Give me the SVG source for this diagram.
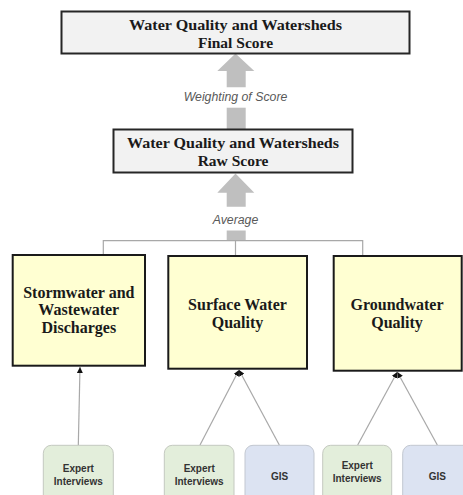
<svg xmlns="http://www.w3.org/2000/svg" width="463" height="495" viewBox="0 0 463 495">
  <defs>
    <style>
      .score { fill: #f2f2f2; stroke: #262626; stroke-width: 2; }
      .factor { fill: #ffffd2; stroke: #1a1a1a; stroke-width: 2; }
      .expert { fill: #e3eedb; stroke: #c4c9c0; stroke-width: 1; }
      .gis { fill: #dce3f2; stroke: #c2c7d0; stroke-width: 1; }
      .bigarrow { fill: #bfbfbf; }
      .link { stroke: #a8a8a8; stroke-width: 1.2; fill: none; }
      .serif { font-family: "Liberation Serif", "Times New Roman", serif; font-weight: bold; fill: #1a1a1a; text-anchor: middle; }
      .label { font-family: "Liberation Sans", Arial, sans-serif; font-style: italic; fill: #595959; font-size: 12.3px; text-anchor: middle; }
      .small { font-family: "Liberation Sans", Arial, sans-serif; font-weight: bold; fill: #333; font-size: 10px; text-anchor: middle; }
    </style>
    <marker id="tip" viewBox="0 0 6 6" refX="6" refY="3" markerWidth="6" markerHeight="6" markerUnits="userSpaceOnUse" orient="auto">
      <path d="M0,0 L6,3 L0,6 Z" fill="#111"/>
    </marker>
  </defs>

  <rect width="463" height="495" fill="#ffffff"/>

  <!-- connectors -->
  <g id="connectors">
    <!-- final score arrow, broken around its label -->
    <polygon class="bigarrow" points="235.5,53.5 254.3,71 245.7,71 245.7,87.3 226.7,87.3 226.7,71 217.3,71"/>
    <rect class="bigarrow" x="226.7" y="107.7" width="19" height="21.6"/>
    <text class="label" x="235.5" y="101">Weighting of Score</text>

    <!-- raw score arrow -->
    <polygon class="bigarrow" points="235.5,173.5 254.3,192.7 245.7,192.7 245.7,206.7 226.7,206.7 226.7,192.7 217.3,192.7"/>
    <rect class="bigarrow" x="226.7" y="230.5" width="19" height="10"/>
    <text class="label" x="235.5" y="224">Average</text>

    <!-- bracket joining the three factors -->
    <path class="link" d="M103.3,255 V240.7 H362.7 V256 M235.5,240.7 V256"/>

    <!-- data sources feeding each factor -->
    <path class="link" d="M78.3,445.5 L80,367" marker-end="url(#tip)"/>
    <path class="link" d="M200,445 L239,370" marker-end="url(#tip)"/>
    <path class="link" d="M279.3,445 L239,370" marker-end="url(#tip)"/>
    <path class="link" d="M357.7,445 L397.3,372" marker-end="url(#tip)"/>
    <path class="link" d="M437.3,445 L397.3,372" marker-end="url(#tip)"/>
  </g>

  <g id="final-score">
    <rect class="score" x="61.5" y="11.5" width="348" height="42"/>
    <text class="serif" x="235.5" y="29.5" font-size="15.5" textLength="213" lengthAdjust="spacingAndGlyphs">Water Quality and Watersheds</text>
    <text class="serif" x="235.5" y="47.5" font-size="15.5">Final Score</text>
  </g>

  <g id="raw-score">
    <rect class="score" x="113.5" y="129.5" width="239" height="43"/>
    <text class="serif" x="233" y="148" font-size="15.5" textLength="212" lengthAdjust="spacingAndGlyphs">Water Quality and Watersheds</text>
    <text class="serif" x="233" y="166" font-size="15.5">Raw Score</text>
  </g>

  <g id="stormwater">
    <rect class="factor" x="12.7" y="255" width="132.3" height="110.7"/>
    <text class="serif" x="78.8" y="297.5" font-size="16">Stormwater and</text>
    <text class="serif" x="78.8" y="315" font-size="16">Wastewater</text>
    <text class="serif" x="78.8" y="332.5" font-size="16">Discharges</text>
  </g>

  <g id="surface-water">
    <rect class="factor" x="168.3" y="256" width="138.7" height="112.7"/>
    <text class="serif" x="237.5" y="310" font-size="16">Surface Water</text>
    <text class="serif" x="237.5" y="328" font-size="16">Quality</text>
  </g>

  <g id="groundwater">
    <rect class="factor" x="333.7" y="256" width="128" height="114.7"/>
    <text class="serif" x="397" y="310" font-size="16">Groundwater</text>
    <text class="serif" x="397" y="328" font-size="16">Quality</text>
  </g>

  <g id="expert-1">
    <rect class="expert" x="43.3" y="445.3" width="70" height="60" rx="8"/>
    <text class="small" x="78.3" y="471.5">Expert</text>
    <text class="small" x="78.3" y="484.5">Interviews</text>
  </g>

  <g id="expert-2">
    <rect class="expert" x="164.3" y="445.3" width="69.7" height="60" rx="8"/>
    <text class="small" x="199.2" y="471.5">Expert</text>
    <text class="small" x="199.2" y="484.5">Interviews</text>
  </g>

  <g id="gis-1">
    <rect class="gis" x="245" y="445.3" width="69" height="60" rx="8"/>
    <text class="small" x="279.5" y="480">GIS</text>
  </g>

  <g id="expert-3">
    <rect class="expert" x="322.7" y="445.3" width="69" height="60" rx="8"/>
    <text class="small" x="357.2" y="468.5">Expert</text>
    <text class="small" x="357.2" y="481.5">Interviews</text>
  </g>

  <g id="gis-2">
    <rect class="gis" x="402.7" y="445.3" width="69" height="60" rx="8"/>
    <text class="small" x="437.3" y="480">GIS</text>
  </g>
</svg>
